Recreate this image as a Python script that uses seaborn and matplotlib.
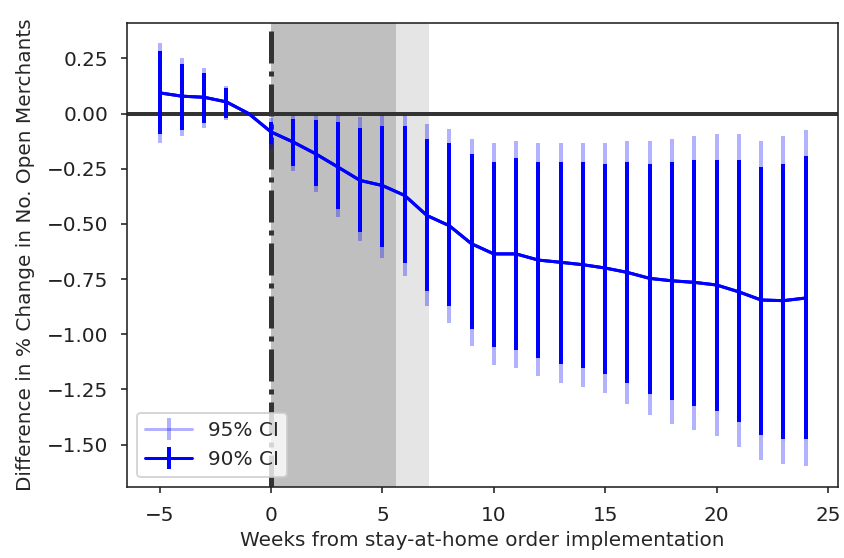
import numpy as np
import pandas as pd
import matplotlib
matplotlib.use("Agg")
import matplotlib.pyplot as plt
from matplotlib.legend_handler import HandlerErrorbar
from matplotlib.container import ErrorbarContainer
import seaborn as sns

weeks = [-5, -4, -3, -2, -1, 0, 1, 2, 3, 4, 5, 6, 7, 8, 9, 10, 11, 12, 13, 14,
         15, 16, 17, 18, 19, 20, 21, 22, 23, 24]
estimate = [0.094, 0.079, 0.074, 0.053, 0.0, -0.083, -0.129, -0.182, -0.242, -0.303,
            -0.326, -0.371, -0.462, -0.508, -0.59, -0.636, -0.636, -0.664, -0.674, -0.685,
            -0.700, -0.720, -0.747, -0.758, -0.765, -0.777, -0.808, -0.845, -0.848, -0.836]
ci90_low = [-0.091, -0.073, -0.043, -0.018, 0.0, -0.14, -0.238, -0.326, -0.432, -0.538,
            -0.603, -0.679, -0.803, -0.871, -0.977, -1.058, -1.073, -1.106, -1.133, -1.155,
            -1.182, -1.223, -1.270, -1.300, -1.326, -1.348, -1.397, -1.455, -1.473, -1.473]
ci90_high = [0.285, 0.227, 0.186, 0.118, 0.0, -0.038, -0.026, -0.03, -0.038, -0.064,
             -0.058, -0.058, -0.114, -0.133, -0.182, -0.220, -0.200, -0.220, -0.220, -0.220,
             -0.230, -0.220, -0.230, -0.220, -0.209, -0.209, -0.209, -0.240, -0.230, -0.194]
ci95_low = [-0.132, -0.103, -0.064, -0.030, 0.0, -0.16, -0.258, -0.356, -0.470, -0.579,
            -0.656, -0.735, -0.871, -0.947, -1.053, -1.141, -1.152, -1.189, -1.220, -1.239,
            -1.268, -1.318, -1.367, -1.406, -1.435, -1.462, -1.512, -1.571, -1.588, -1.598]
ci95_high = [0.321, 0.254, 0.206, 0.125, 0.0, -0.018, -0.008, -0.008, -0.008, -0.015,
             -0.008, -0.008, -0.049, -0.068, -0.114, -0.133, -0.124, -0.133, -0.133, -0.133,
             -0.133, -0.124, -0.124, -0.114, -0.103, -0.094, -0.094, -0.124, -0.103, -0.076]

dark_span = (0, 5.6)
light_span = (5.6, 7.1)

df = pd.DataFrame({"week": weeks, "est": estimate,
                   "lo90": ci90_low, "hi90": ci90_high,
                   "lo95": ci95_low, "hi95": ci95_high})

sns.set_style("ticks")
plt.rcParams["font.family"] = ["DejaVu Sans"]
plt.rcParams["axes.edgecolor"] = "#222222"
plt.rcParams["xtick.color"] = "#222222"
plt.rcParams["ytick.color"] = "#222222"
plt.rcParams["text.color"] = "#262626"
plt.rcParams["axes.labelcolor"] = "#262626"
plt.rcParams["font.size"] = 10
plt.rcParams["axes.labelsize"] = 10
plt.rcParams["xtick.labelsize"] = 10
plt.rcParams["ytick.labelsize"] = 10
plt.rcParams["legend.fontsize"] = 10
plt.rcParams["xtick.major.pad"] = 6.2
plt.rcParams["ytick.major.pad"] = 6.2
plt.rcParams["xtick.major.size"] = 3.2
plt.rcParams["ytick.major.size"] = 3.2

fig, ax = plt.subplots(figsize=(844 / 144, 558 / 144), dpi=144)
fig.subplots_adjust(left=0.1508, right=0.9929, top=0.9593, bottom=0.1267)

ax.axvspan(*dark_span, color="gray", alpha=0.5, lw=0, zorder=0)
ax.axvspan(*light_span, color="gray", alpha=0.2, lw=0, zorder=0)
ax.axvline(0, color="#333333", ls="-.", lw=2.5, zorder=1)
ax.axhline(0, color="#333333", lw=2, zorder=1)

err95 = np.vstack([df["est"] - df["lo95"], df["hi95"] - df["est"]])
err90 = np.vstack([df["est"] - df["lo90"], df["hi90"] - df["est"]])

ax.errorbar(df["week"], df["est"], yerr=err95, color="blue", alpha=0.3,
            elinewidth=2, lw=1.5, label="95% CI", zorder=2)
ax.errorbar(df["week"], df["est"], yerr=err90, color="blue",
            elinewidth=2, lw=1.5, label="90% CI", zorder=3)
sns.lineplot(data=df, x="week", y="est", color="blue", lw=1.5, ax=ax,
             legend=False, zorder=3)

ax.set_xlim(-6.45, 25.45)
ax.set_ylim(-1.694, 0.412)
ax.set_xticks([-5, 0, 5, 10, 15, 20, 25])
ax.set_yticks([0.25, 0.0, -0.25, -0.5, -0.75, -1.0, -1.25, -1.5])
ax.set_xlabel("Weeks from stay-at-home order implementation", labelpad=3)
ax.set_ylabel("Difference in % Change in No. Open Merchants", labelpad=6)
for s in ax.spines.values():
    s.set_visible(True)
    s.set_linewidth(0.8)
ax.legend(loc="lower left", handlelength=2.35,
          handler_map={ErrorbarContainer: HandlerErrorbar(yerr_size=0.55)})

fig.savefig("out.png", dpi=144)
